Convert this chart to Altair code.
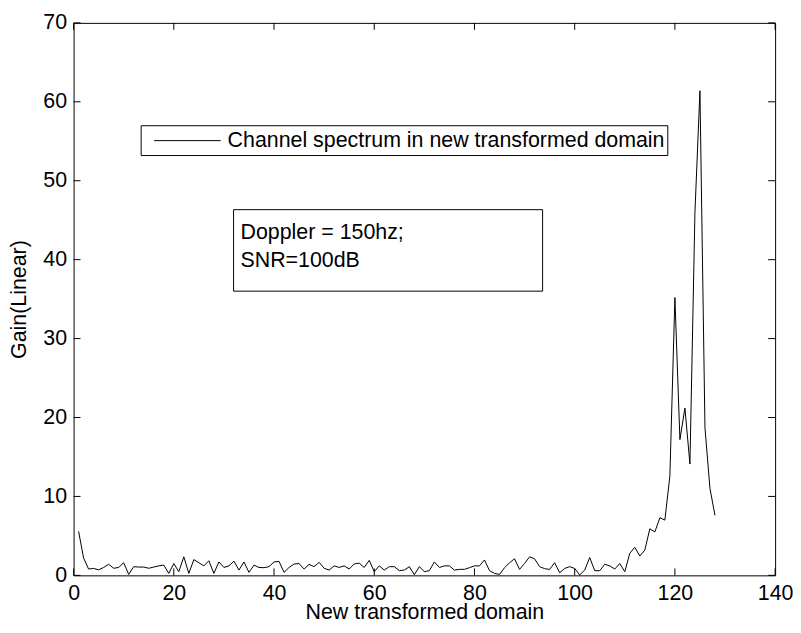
import altair as alt
import pandas as pd

gain = [
    5.58, 2.2, 0.8, 0.88, 0.7, 1.0, 1.4, 0.9, 1.0, 1.6,
    0.12, 1.1, 1.05, 1.05, 0.9, 1.05, 1.2, 1.3, 0.25, 1.5,
    0.46, 2.35, 0.25, 2.0, 1.6, 1.2, 1.85, 0.25, 1.7, 1.0,
    1.2, 1.8, 0.67, 1.7, 0.38, 1.3, 1.0, 0.97, 1.1, 1.7,
    1.77, 0.38, 1.0, 1.44, 1.5, 0.8, 1.4, 1.1, 1.65, 0.9,
    0.67, 1.2, 1.0, 1.2, 0.8, 1.44, 1.55, 1.0, 1.9, 0.46,
    1.2, 0.67, 1.1, 1.1, 0.6, 0.67, 1.1, 0.08, 1.1, 0.46,
    0.6, 1.7, 1.0, 1.2, 1.2, 0.67, 0.76, 0.76, 0.97, 1.2,
    1.2, 1.95, 0.6, 0.25, 0.12, 0.97, 1.6, 2.1, 0.76, 1.5,
    2.35, 2.1, 1.1, 0.85, 0.75, 1.6, 0.33, 0.88, 1.1, 0.88,
    0.04, 0.67, 2.26, 0.59, 0.59, 1.4, 1.2, 0.8, 1.5, 0.46,
    2.8, 3.55, 2.45, 3.2, 5.9, 5.5, 7.3, 7.0, 12.6, 35.2,
    17.2, 21.2, 14.1, 46.0, 61.4, 18.7, 11.0, 7.6,
]
index = list(range(1, len(gain) + 1))

x_ticks = [0, 20, 40, 60, 80, 100, 120, 140]
y_ticks = [0, 10, 20, 30, 40, 50, 60, 70]

legend_label = "Channel spectrum in new transformed domain"
note_lines = ["Doppler = 150hz;", "SNR=100dB"]
x_title = "New transformed domain"
y_title = "Gain(Linear)"

W, H = 706, 556
FONT = "Liberation Sans"
FS = 21.5
TL = 7  # inward tick length

df = pd.DataFrame({"idx": index, "gain": gain})
xs = alt.Scale(domain=[0, 140], nice=False)
ys = alt.Scale(domain=[0, 70], nice=False)

line = alt.Chart(df).mark_line(color="black", strokeWidth=1).encode(
    x=alt.X("idx:Q", scale=xs, title=x_title,
            axis=alt.Axis(values=x_ticks, labelPadding=7, labelFlush=False,
                          titleY=43, titleBaseline="alphabetic")),
    y=alt.Y("gain:Q", scale=ys, title=y_title,
            axis=alt.Axis(values=y_ticks, labelPadding=7, labelFlush=False,
                          titleX=-48, titleBaseline="alphabetic")),
)

xt = pd.DataFrame({"t": x_ticks})
yt = pd.DataFrame({"t": y_ticks})
tick_style = dict(color="black", strokeWidth=1)
bottom_ticks = alt.Chart(xt).mark_rule(**tick_style).encode(
    x=alt.X("t:Q", scale=xs), y=alt.value(H), y2=alt.value(H - TL))
top_ticks = alt.Chart(xt).mark_rule(**tick_style).encode(
    x=alt.X("t:Q", scale=xs), y=alt.value(0), y2=alt.value(TL))
left_ticks = alt.Chart(yt).mark_rule(**tick_style).encode(
    y=alt.Y("t:Q", scale=ys), x=alt.value(0), x2=alt.value(TL))
right_ticks = alt.Chart(yt).mark_rule(**tick_style).encode(
    y=alt.Y("t:Q", scale=ys), x=alt.value(W), x2=alt.value(W - TL))

one = pd.DataFrame({"k": [0]})
legend_box = alt.Chart(one).mark_rect(fill="white", stroke="black", strokeWidth=1).encode(
    x=alt.value(68), x2=alt.value(598), y=alt.value(103.5), y2=alt.value(133.5))
legend_line = alt.Chart(one).mark_rule(color="black", strokeWidth=1).encode(
    x=alt.value(81), x2=alt.value(148), y=alt.value(118.5))
legend_text = alt.Chart(one).mark_text(
    text=legend_label, font=FONT, fontSize=FS, align="left", baseline="middle",
    color="black").encode(x=alt.value(155), y=alt.value(119))

note_box = alt.Chart(one).mark_rect(fill="white", stroke="black", strokeWidth=1).encode(
    x=alt.value(161), x2=alt.value(472), y=alt.value(188), y2=alt.value(270))
note_text = alt.Chart(one).mark_text(
    text=note_lines, font=FONT, fontSize=FS, align="left", baseline="middle",
    lineHeight=28, color="black").encode(x=alt.value(168), y=alt.value(212))

chart = alt.layer(
    line, bottom_ticks, top_ticks, left_ticks, right_ticks,
    legend_box, legend_line, legend_text, note_box, note_text,
).properties(
    width=W, height=H,
    autosize=alt.AutoSizeParams(type="none"),
    padding={"left": 66, "top": 13, "right": 18, "bottom": 50},
    background="white",
).configure_view(
    stroke="black", strokeWidth=1,
).configure_axis(
    grid=False, domain=False, ticks=False,
    labelFont=FONT, labelFontSize=FS, labelColor="black",
    titleFont=FONT, titleFontSize=FS, titleFontWeight="normal", titleColor="black",
)

chart.save("out.html", embed_options={"renderer": "svg", "actions": False})
